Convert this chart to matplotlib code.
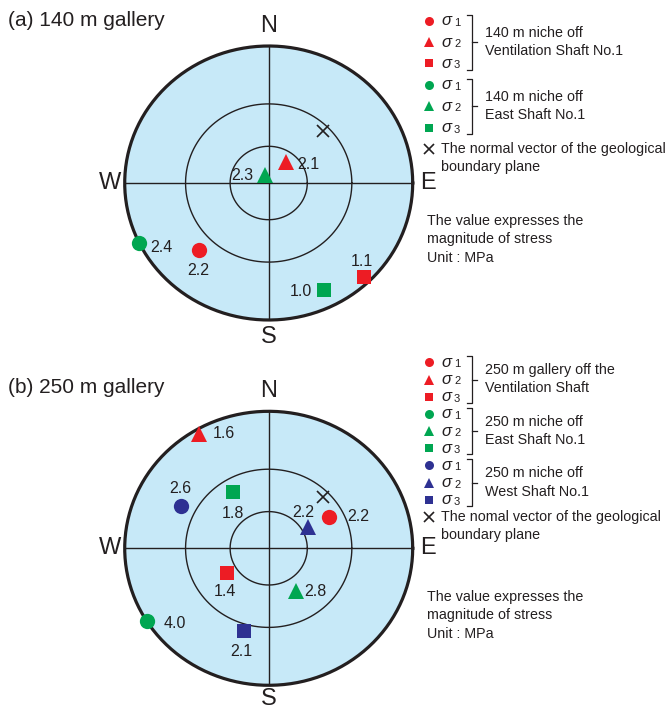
import numpy as np
import matplotlib
matplotlib.use("Agg")
import matplotlib.pyplot as plt

plt.rcParams['font.family'] = ['Liberation Sans', 'DejaVu Sans']

RED = '#ED1C24'
GREEN = '#00A651'
BLUE = '#2E3192'
BG = '#C7E9F8'
INK = '#231F20'

# (a) 140 m gallery: principal stress axes (trend, plunge in degrees)
a_site = ['vent', 'vent', 'vent', 'east', 'east', 'east']
a_sigma = [1, 2, 3, 1, 2, 3]
a_trend = [225, 38, 136, 244, 334, 154]
a_plunge = [21, 68, 3, 0, 83, 8]
a_mpa = ['2.2', '2.1', '1.1', '2.4', '2.3', '1.0']
a_label_off = [(0, -15), (16, -2), (-1, 11), (16, -3), (-16, 0), (-16, -1)]

# (b) 250 m gallery
b_site = ['vent', 'vent', 'vent', 'east', 'east', 'east', 'west', 'west', 'west']
b_sigma = [1, 2, 3, 1, 2, 3, 1, 2, 3]
b_trend = [61, 330, 238, 238, 149, 329, 297, 61, 196]
b_plunge = [39, 2, 52, 0, 50, 39, 21, 55, 26]
b_mpa = ['2.2', '1.6', '1.4', '4.0', '2.8', '1.8', '2.6', '2.2', '2.1']
b_label_off = [(21, 0), (18, 0), (-1, -13), (20, -2), (14, 0), (0, -15),
               (0, 12), (-4, 11), (-2, -15)]

# normal vector of the geological boundary plane
plane_trend = 45
plane_plunge = 34

site_color = {'vent': RED, 'east': GREEN, 'west': BLUE}
sigma_marker = {1: 'o', 2: '^', 3: 's'}
sigma_size = {1: 11, 2: 11, 3: 10.5}


def project(trend, plunge):
    # Wulff (equal-angle) lower hemisphere projection
    t = np.radians(np.asarray(trend, float))
    r = np.tan(np.radians(90 - np.asarray(plunge, float)) / 2)
    return r * np.sin(t), r * np.cos(t)


W, H = 670, 711
fig = plt.figure(figsize=(W / 100, H / 100), dpi=100)


def stereonet(cx, cy, rx, ry):
    ax = fig.add_axes([(cx - rx) / W, 1 - (cy + ry) / H, 2 * rx / W, 2 * ry / H])
    ax.set_xlim(-1, 1)
    ax.set_ylim(-1, 1)
    ax.axis('off')
    th = np.linspace(0, 2 * np.pi, 400)
    ax.fill(np.cos(th), np.sin(th), color=BG, lw=0, zorder=0)
    for p in (30, 60):
        r = np.tan(np.radians(90 - p) / 2)
        ax.plot(r * np.cos(th), r * np.sin(th), color=INK, lw=1.0, zorder=1)
    ax.plot([-1, 1], [0, 0], color=INK, lw=1.0, zorder=1)
    ax.plot([0, 0], [-1, 1], color=INK, lw=1.0, zorder=1)
    ax.plot(np.cos(th), np.sin(th), color=INK, lw=2.3, zorder=2, clip_on=False)
    return ax


def plot_points(ax, site, sigma, trend, plunge, mpa, offs):
    x, y = project(trend, plunge)
    for i in range(len(site)):
        ax.plot(x[i], y[i], marker=sigma_marker[sigma[i]], ms=sigma_size[sigma[i]],
                color=site_color[site[i]], mew=0, ls='none', zorder=4, clip_on=False)
        ax.annotate(mpa[i], (x[i], y[i]), xytext=offs[i], textcoords='offset points',
                    ha='center', va='center', fontsize=11.5, color=INK, zorder=5)
    px, py = project(plane_trend, plane_plunge)
    ax.plot(px, py, marker='x', ms=8, mew=1.2, color=INK, ls='none', zorder=4)


def compass(cx, cy, s_off):
    kw = dict(fontsize=17, color=INK, ha='center', va='center')
    ov.text(cx, cy - 157, 'N', **kw)
    ov.text(cx, cy + s_off, 'S', **kw)
    ov.text(cx - 159, cy, 'W', **kw)
    ov.text(cx + 159, cy, 'E', **kw)


# overlay in pixel units for titles and key
ov = fig.add_axes([0, 0, 1, 1])
ov.set_xlim(0, W)
ov.set_ylim(H, 0)
ov.axis('off')

ax_a = stereonet(268.7, 183, 144, 137)
plot_points(ax_a, a_site, a_sigma, a_trend, a_plunge, a_mpa, a_label_off)
ax_b = stereonet(268.7, 548.3, 144, 137)
plot_points(ax_b, b_site, b_sigma, b_trend, b_plunge, b_mpa, b_label_off)

ov.text(8, 20.7, '(a) 140 m gallery', fontsize=15, color=INK, va='center')
ov.text(8, 387.3, '(b) 250 m gallery', fontsize=15, color=INK, va='center')
compass(268.7, 183, 154)
compass(268.7, 548.3, 151)

FS = 10.3


def key(y0, step, groups, normal_text):
    y = y0
    for site, lines in groups:
        ys = []
        for s in (1, 2, 3):
            ov.plot(429, y, marker=sigma_marker[s], ms=6.5 if s != 3 else 6,
                    color=site_color[site], mew=0, ls='none')
            ov.text(441, y, '\u03c3', fontsize=12, style='italic', color=INK,
                    va='center', ha='left')
            ov.text(454, y + 2, str(s), fontsize=8, color=INK, va='center', ha='left')
            ys.append(y)
            y += step
        top, bot = ys[0] - 6, ys[2] + 6
        bx = 471.7
        ov.plot([bx - 5, bx, bx, bx - 5], [top, top, bot, bot], color=INK, lw=0.9)
        ov.plot([bx, bx + 5], [ys[1], ys[1]], color=INK, lw=0.9)
        ov.text(485, ys[1] - 9.3, lines[0], fontsize=FS, color=INK, va='center')
        ov.text(485, ys[1] + 9.0, lines[1], fontsize=FS, color=INK, va='center')
    ov.plot(429, y, marker='x', ms=7, mew=1.2, color=INK, ls='none')
    ov.text(441, y, normal_text, fontsize=FS, color=INK, va='center')
    ov.text(441, y + 17.5, 'boundary plane', fontsize=FS, color=INK, va='center')


key(20.7, 21.4,
    [('vent', ('140 m niche off', 'Ventilation Shaft No.1')),
     ('east', ('140 m niche off', 'East Shaft No.1'))],
    'The normal vector of the geological')
key(362.3, 17.2,
    [('vent', ('250 m gallery off the', 'Ventilation Shaft')),
     ('east', ('250 m niche off', 'East Shaft No.1')),
     ('west', ('250 m niche off', 'West Shaft No.1'))],
    'The nomal vector of the geological')

for y0 in (221, 596.7):
    for k, line in enumerate(['The value expresses the', 'magnitude of stress', 'Unit : MPa']):
        ov.text(427, y0 + 18.5 * k, line, fontsize=FS, color=INK, va='center')

fig.savefig('out.png', dpi=100)
